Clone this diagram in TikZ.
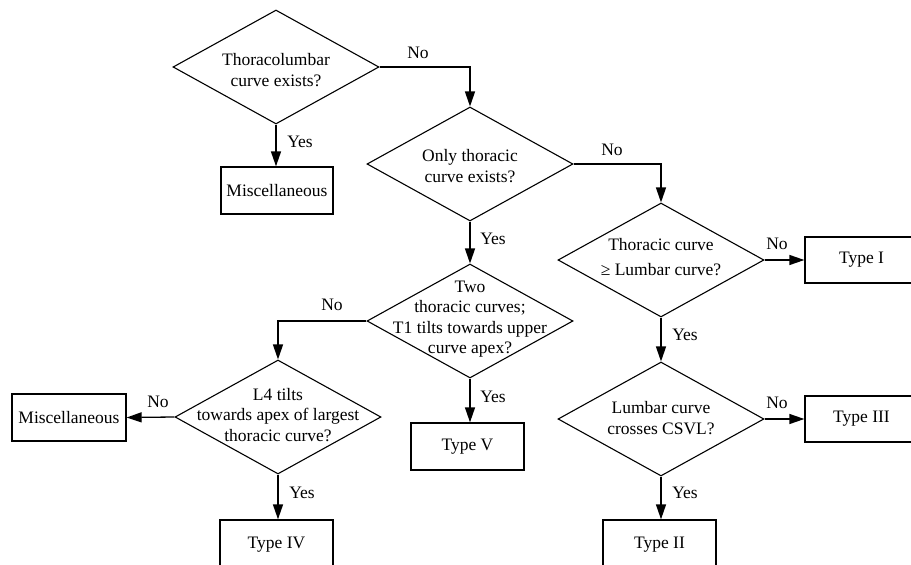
\documentclass[tikz,border=0pt]{standalone}
\usepackage{fontspec}
\setmainfont{Liberation Serif}
\usetikzlibrary{shapes.geometric,arrows.meta}
\begin{document}
\begin{tikzpicture}[x=1pt,y=-1pt,
  dia/.style={draw,shape=diamond,minimum width=206pt,minimum height=114pt,inner sep=0pt,line width=1.1pt},
  box/.style={draw,rectangle,minimum width=113pt,minimum height=47pt,inner sep=0pt,line width=1.3pt,font=\fontsize{17.5}{20.5}\selectfont},
  txt/.style={align=center,font=\fontsize{17.5}{20.5}\selectfont,inner sep=0pt},
  lbl/.style={font=\fontsize{17.5}{20.5}\selectfont,inner sep=0pt},
  arr/.style={line width=1.3pt,-{Triangle[length=15pt,width=10pt]}}]
\useasboundingbox (0,0) rectangle (911,565);
\clip (0,0) rectangle (911,565);
\fill[white] (0,0) rectangle (911,565);

% decisions
\node[dia] (d1) at (276,67) {};
\node[txt] (t1) at (276,70) {Thoracolumbar\\curve exists?};
\node[dia] (d2) at (470,164) {};
\node[txt] (t2) at (470,166) {Only thoracic\\curve exists?};
\node[dia] (d3) at (661,260) {};
\node[txt] (t3) at (661,257) {Thoracic curve\\[5pt]≥ Lumbar curve?};
\node[dia] (d4) at (470,321) {};
\node[txt] (t4) at (470,319) {Two\\thoracic curves;\\T1 tilts towards upper\\curve apex?};
\node[dia] (d5) at (661,419) {};
\node[txt] (t5) at (661,418) {Lumbar curve\\crosses CSVL?};
\node[dia] (d6) at (278,417) {};
\node[txt] (t6) at (278,415) {L4 tilts\\towards apex of largest\\thoracic curve?};

% outcomes
\node[box,minimum width=112pt] (m1) at (277,190.5) {Miscellaneous};
\node[box,minimum height=46pt] (tI) at (861.5,260) {Type I};
\node[box,minimum height=46pt] (tIII) at (861.5,419) {Type III};
\node[box,minimum height=50pt] (tII) at (659.5,545) {Type II};
\node[box,minimum width=114pt] (m2) at (69,417.5) {Miscellaneous};
\node[box] (tV) at (467.5,446.5) {Type V};
\node[box,minimum height=50pt] (tIV) at (276.5,545) {Type IV};

% connectors
\draw[arr] (d1.south) -- (d1.south |- m1.north);
\draw[arr] (d1.east) -| (d2.north);
\draw[arr] (d2.east) -| (d3.north);
\draw[arr] (d2.south) -- (d4.north);
\draw[arr] (d3.east) -- (tI.west);
\draw[arr] (d3.south) -- (d5.north);
\draw[arr] (d5.east) -- (tIII.west);
\draw[arr] (d5.south) -- (d5.south |- tII.north);
\draw[arr] (d4.west) -| (d6.north);
\draw[arr] (d4.south) -- (d4.south |- tV.north);
\draw[arr] (d6.west) -- (m2.east);
\draw[arr] (d6.south) -- (d6.south |- tIV.north);

% labels
\node[lbl] (l1) at (418,53) {No};
\node[lbl] (l2) at (300,142) {Yes};
\node[lbl] (l3) at (612,150) {No};
\node[lbl] (l4) at (493,239) {Yes};
\node[lbl] (l5) at (777,244) {No};
\node[lbl] (l6) at (685,335) {Yes};
\node[lbl] (l7) at (777,403) {No};
\node[lbl] (l8) at (685,493) {Yes};
\node[lbl] (l9) at (332,305) {No};
\node[lbl] (l10) at (493,397) {Yes};
\node[lbl] (l11) at (158,402) {No};
\node[lbl] (l12) at (302,493) {Yes};
\end{tikzpicture}
\end{document}
